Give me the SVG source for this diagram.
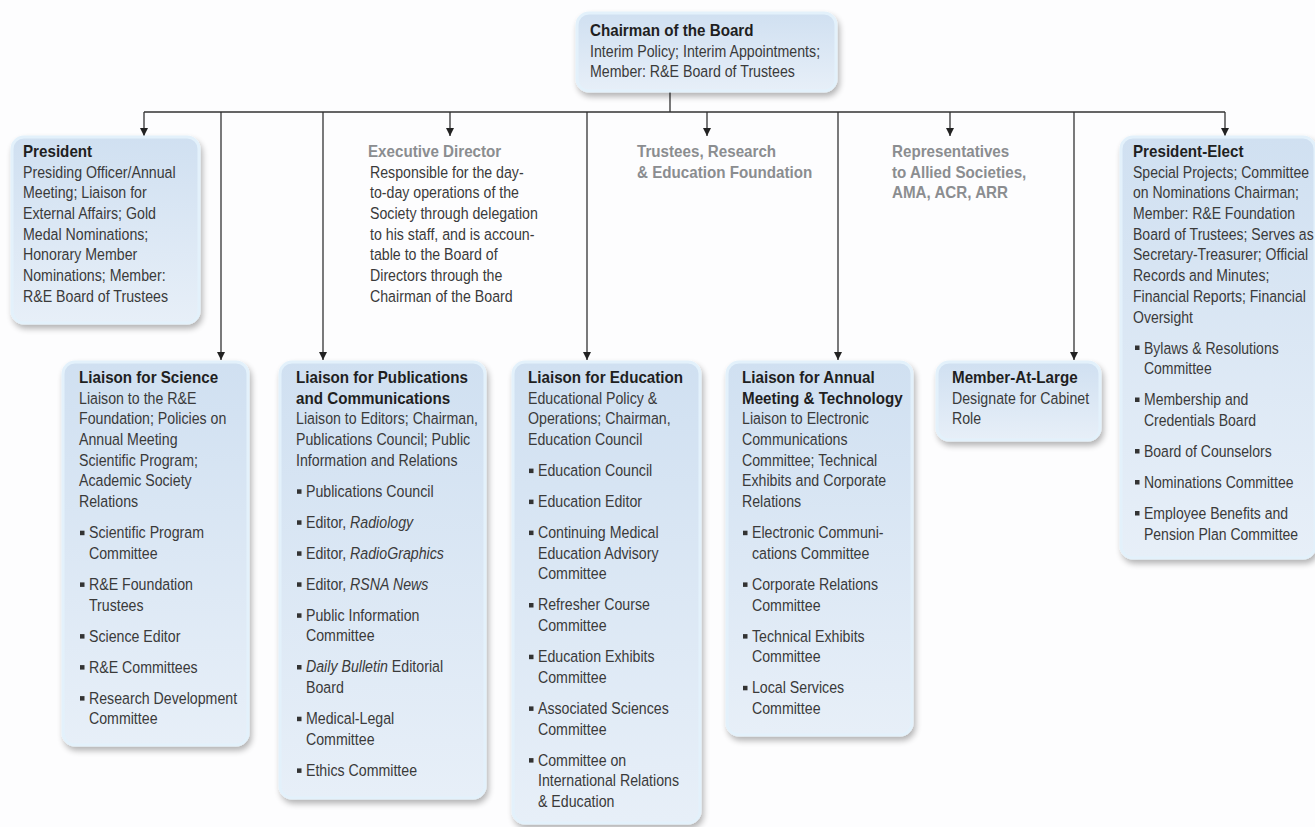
<svg xmlns="http://www.w3.org/2000/svg" width="1315" height="827" viewBox="0 0 1315 827">
<defs>
<linearGradient id="g" x1="0" y1="0" x2="0" y2="1">
<stop offset="0" stop-color="#d0e0f1"/>
<stop offset="1" stop-color="#e7eff8"/>
</linearGradient>
<filter id="sh" x="-10%" y="-10%" width="125%" height="125%">
<feGaussianBlur in="SourceAlpha" stdDeviation="3"/>
<feOffset dx="2" dy="4" result="o"/>
<feComponentTransfer><feFuncA type="linear" slope="0.3"/></feComponentTransfer>
<feMerge><feMergeNode/><feMergeNode in="SourceGraphic"/></feMerge>
</filter>
<marker id="ah" markerUnits="userSpaceOnUse" markerWidth="10" markerHeight="10" refX="8" refY="4" orient="auto">
<path d="M0,0 L8,4 L0,8 z" fill="#222"/>
</marker>
<style>
.box{fill:url(#g);stroke:#e3f1fb;stroke-width:3;filter:url(#sh)}
text{font-family:"Liberation Sans",Arial,sans-serif;font-size:16.5px}
.t{fill:#3a3a3a}
.h{fill:#1f1f1f;font-weight:bold}
.gh{fill:#8b8d90;font-weight:bold}
.bl{fill:#333}
.c{stroke:#333;stroke-width:1.3;fill:none}
.i{font-style:italic}
</style>
</defs>
<rect x="0" y="0" width="1315" height="827" fill="#fdfdfe"/>

<g id="connectors">
<path class="c" d="M670 91 V112 M144 112 H1225"/>
<line class="c" x1="144" y1="112" x2="144" y2="136" marker-end="url(#ah)"/>
<line class="c" x1="221" y1="112" x2="221" y2="360" marker-end="url(#ah)"/>
<line class="c" x1="323" y1="112" x2="323" y2="360" marker-end="url(#ah)"/>
<line class="c" x1="450" y1="112" x2="450" y2="136" marker-end="url(#ah)"/>
<line class="c" x1="587" y1="112" x2="587" y2="360" marker-end="url(#ah)"/>
<line class="c" x1="707" y1="112" x2="707" y2="136" marker-end="url(#ah)"/>
<line class="c" x1="838" y1="112" x2="838" y2="360" marker-end="url(#ah)"/>
<line class="c" x1="950" y1="112" x2="950" y2="136" marker-end="url(#ah)"/>
<line class="c" x1="1074" y1="112" x2="1074" y2="360" marker-end="url(#ah)"/>
<line class="c" x1="1225" y1="112" x2="1225" y2="136" marker-end="url(#ah)"/>
</g>

<g id="chairman">
<rect class="box" x="577" y="13" width="259" height="78" rx="12"/>
<g transform="translate(590 0) scale(0.92 1)"><text class="h" x="0" y="36">Chairman of the Board</text></g>
<g transform="translate(590 0) scale(0.86 1)" class="t">
<text class="t" x="0" y="56.7">Interim Policy; Interim Appointments;</text>
<text class="t" x="0" y="77.4">Member: R&amp;E Board of Trustees</text>
</g>
</g>

<g id="president">
<rect class="box" x="12" y="137" width="187" height="186" rx="12"/>
<g transform="translate(23 0) scale(0.92 1)"><text class="h" x="0" y="157">President</text></g>
<g transform="translate(23 0) scale(0.86 1)">
<text class="t" x="0" y="177.7">Presiding Officer/Annual</text>
<text class="t" x="0" y="198.4">Meeting; Liaison for</text>
<text class="t" x="0" y="219.1">External Affairs; Gold</text>
<text class="t" x="0" y="239.8">Medal Nominations;</text>
<text class="t" x="0" y="260.5">Honorary Member</text>
<text class="t" x="0" y="281.2">Nominations; Member:</text>
<text class="t" x="0" y="301.9">R&amp;E Board of Trustees</text>
</g>
</g>

<g id="executive-director">
<g transform="translate(368 0) scale(0.92 1)"><text class="gh" x="0" y="157">Executive Director</text></g>
<g transform="translate(370 0) scale(0.86 1)">
<text class="t" x="0" y="177.7">Responsible for the day-</text>
<text class="t" x="0" y="198.4">to-day operations of the</text>
<text class="t" x="0" y="219.1">Society through delegation</text>
<text class="t" x="0" y="239.8">to his staff, and is accoun-</text>
<text class="t" x="0" y="260.5">table to the Board of</text>
<text class="t" x="0" y="281.2">Directors through the</text>
<text class="t" x="0" y="301.9">Chairman of the Board</text>
</g>
</g>

<g id="trustees">
<g transform="translate(637 0) scale(0.92 1)">
<text class="gh" x="0" y="157">Trustees, Research</text>
<text class="gh" x="0" y="177.7">&amp; Education Foundation</text>
</g>
</g>

<g id="representatives">
<g transform="translate(892 0) scale(0.92 1)">
<text class="gh" x="0" y="157">Representatives</text>
<text class="gh" x="0" y="177.7">to Allied Societies,</text>
<text class="gh" x="0" y="198.4">AMA, ACR, ARR</text>
</g>
</g>

<g id="president-elect">
<rect class="box" x="1121" y="137" width="194" height="421" rx="12"/>
<g transform="translate(1133 0) scale(0.92 1)"><text class="h" x="0" y="157">President-Elect</text></g>
<g transform="translate(1133 0) scale(0.85 1)">
<text class="t" x="0" y="177.7">Special Projects; Committee</text>
<text class="t" x="0" y="198.4">on Nominations Chairman;</text>
<text class="t" x="0" y="219.1">Member: R&amp;E Foundation</text>
<text class="t" x="0" y="239.8">Board of Trustees; Serves as</text>
<text class="t" x="0" y="260.5">Secretary-Treasurer; Official</text>
<text class="t" x="0" y="281.2">Records and Minutes;</text>
<text class="t" x="0" y="301.9">Financial Reports; Financial</text>
<text class="t" x="0" y="322.6">Oversight</text>
<text class="t" x="12.9" y="353.6">Bylaws &amp; Resolutions</text>
<text class="t" x="12.9" y="374.3">Committee</text>
<text class="t" x="12.9" y="405.3">Membership and</text>
<text class="t" x="12.9" y="426">Credentials Board</text>
<text class="t" x="12.9" y="457">Board of Counselors</text>
<text class="t" x="12.9" y="488">Nominations Committee</text>
<text class="t" x="12.9" y="519">Employee Benefits and</text>
<text class="t" x="12.9" y="539.7">Pension Plan Committee</text>
</g>
<g class="bl">
<rect x="1135" y="345.5" width="4.5" height="4.5"/>
<rect x="1135" y="397.5" width="4.5" height="4.5"/>
<rect x="1135" y="449" width="4.5" height="4.5"/>
<rect x="1135" y="480" width="4.5" height="4.5"/>
<rect x="1135" y="511" width="4.5" height="4.5"/>
</g>
</g>

<g id="liaison-science">
<rect class="box" x="63" y="362" width="185" height="383" rx="12"/>
<g transform="translate(79 0) scale(0.92 1)"><text class="h" x="0" y="383">Liaison for Science</text></g>
<g transform="translate(79 0) scale(0.86 1)">
<text class="t" x="0" y="403.7">Liaison to the R&amp;E</text>
<text class="t" x="0" y="424.4">Foundation; Policies on</text>
<text class="t" x="0" y="445.1">Annual Meeting</text>
<text class="t" x="0" y="465.8">Scientific Program;</text>
<text class="t" x="0" y="486.5">Academic Society</text>
<text class="t" x="0" y="507.2">Relations</text>
<text class="t" x="11.6" y="538.2">Scientific Program</text>
<text class="t" x="11.6" y="558.9">Committee</text>
<text class="t" x="11.6" y="589.9">R&amp;E Foundation</text>
<text class="t" x="11.6" y="610.6">Trustees</text>
<text class="t" x="11.6" y="641.6">Science Editor</text>
<text class="t" x="11.6" y="672.6">R&amp;E Committees</text>
<text class="t" x="11.6" y="703.6">Research Development</text>
<text class="t" x="11.6" y="724.3">Committee</text>
</g>
<g class="bl">
<rect x="80" y="530.7" width="4.5" height="4.5"/>
<rect x="80" y="582.4" width="4.5" height="4.5"/>
<rect x="80" y="634.1" width="4.5" height="4.5"/>
<rect x="80" y="665.1" width="4.5" height="4.5"/>
<rect x="80" y="696.1" width="4.5" height="4.5"/>
</g>
</g>

<g id="liaison-publications">
<rect class="box" x="280" y="362" width="205" height="436" rx="12"/>
<g transform="translate(296 0) scale(0.92 1)">
<text class="h" x="0" y="383">Liaison for Publications</text>
<text class="h" x="0" y="403.7">and Communications</text>
</g>
<g transform="translate(296 0) scale(0.86 1)">
<text class="t" x="0" y="424.4">Liaison to Editors; Chairman,</text>
<text class="t" x="0" y="445.1">Publications Council; Public</text>
<text class="t" x="0" y="465.8">Information and Relations</text>
<text class="t" x="11.6" y="496.8">Publications Council</text>
<text class="t" x="11.6" y="527.8">Editor, <tspan class="i">Radiology</tspan></text>
<text class="t" x="11.6" y="558.8">Editor, <tspan class="i">RadioGraphics</tspan></text>
<text class="t" x="11.6" y="589.8">Editor, <tspan class="i">RSNA News</tspan></text>
<text class="t" x="11.6" y="620.8">Public Information</text>
<text class="t" x="11.6" y="641.5">Committee</text>
<text class="t" x="11.6" y="672.5"><tspan class="i">Daily Bulletin</tspan> Editorial</text>
<text class="t" x="11.6" y="693.2">Board</text>
<text class="t" x="11.6" y="724.2">Medical-Legal</text>
<text class="t" x="11.6" y="744.9">Committee</text>
<text class="t" x="11.6" y="775.9">Ethics Committee</text>
</g>
<g class="bl">
<rect x="297" y="489.3" width="4.5" height="4.5"/>
<rect x="297" y="520.3" width="4.5" height="4.5"/>
<rect x="297" y="551.3" width="4.5" height="4.5"/>
<rect x="297" y="582.3" width="4.5" height="4.5"/>
<rect x="297" y="613.3" width="4.5" height="4.5"/>
<rect x="297" y="665" width="4.5" height="4.5"/>
<rect x="297" y="716.7" width="4.5" height="4.5"/>
<rect x="297" y="768.4" width="4.5" height="4.5"/>
</g>
</g>

<g id="liaison-education">
<rect class="box" x="513" y="362" width="187" height="461" rx="12"/>
<g transform="translate(528 0) scale(0.92 1)"><text class="h" x="0" y="383">Liaison for Education</text></g>
<g transform="translate(528 0) scale(0.86 1)">
<text class="t" x="0" y="403.7">Educational Policy &amp;</text>
<text class="t" x="0" y="424.4">Operations; Chairman,</text>
<text class="t" x="0" y="445.1">Education Council</text>
<text class="t" x="11.6" y="476.1">Education Council</text>
<text class="t" x="11.6" y="507.1">Education Editor</text>
<text class="t" x="11.6" y="538.1">Continuing Medical</text>
<text class="t" x="11.6" y="558.8">Education Advisory</text>
<text class="t" x="11.6" y="579.5">Committee</text>
<text class="t" x="11.6" y="610.5">Refresher Course</text>
<text class="t" x="11.6" y="631.2">Committee</text>
<text class="t" x="11.6" y="662.2">Education Exhibits</text>
<text class="t" x="11.6" y="682.9">Committee</text>
<text class="t" x="11.6" y="713.9">Associated Sciences</text>
<text class="t" x="11.6" y="734.6">Committee</text>
<text class="t" x="11.6" y="765.6">Committee on</text>
<text class="t" x="11.6" y="786.3">International Relations</text>
<text class="t" x="11.6" y="807">&amp; Education</text>
</g>
<g class="bl">
<rect x="529" y="468.6" width="4.5" height="4.5"/>
<rect x="529" y="499.6" width="4.5" height="4.5"/>
<rect x="529" y="530.6" width="4.5" height="4.5"/>
<rect x="529" y="603" width="4.5" height="4.5"/>
<rect x="529" y="654.7" width="4.5" height="4.5"/>
<rect x="529" y="706.4" width="4.5" height="4.5"/>
<rect x="529" y="758.1" width="4.5" height="4.5"/>
</g>
</g>

<g id="liaison-annual-meeting">
<rect class="box" x="727" y="362" width="185" height="373" rx="12"/>
<g transform="translate(742 0) scale(0.92 1)">
<text class="h" x="0" y="383">Liaison for Annual</text>
<text class="h" x="0" y="403.7">Meeting &amp; Technology</text>
</g>
<g transform="translate(742 0) scale(0.86 1)">
<text class="t" x="0" y="424.4">Liaison to Electronic</text>
<text class="t" x="0" y="445.1">Communications</text>
<text class="t" x="0" y="465.8">Committee; Technical</text>
<text class="t" x="0" y="486.5">Exhibits and Corporate</text>
<text class="t" x="0" y="507.2">Relations</text>
<text class="t" x="11.6" y="538.2">Electronic Communi-</text>
<text class="t" x="11.6" y="558.9">cations Committee</text>
<text class="t" x="11.6" y="589.9">Corporate Relations</text>
<text class="t" x="11.6" y="610.6">Committee</text>
<text class="t" x="11.6" y="641.6">Technical Exhibits</text>
<text class="t" x="11.6" y="662.3">Committee</text>
<text class="t" x="11.6" y="693.3">Local Services</text>
<text class="t" x="11.6" y="714">Committee</text>
</g>
<g class="bl">
<rect x="743" y="530.7" width="4.5" height="4.5"/>
<rect x="743" y="582.4" width="4.5" height="4.5"/>
<rect x="743" y="634.1" width="4.5" height="4.5"/>
<rect x="743" y="685.8" width="4.5" height="4.5"/>
</g>
</g>

<g id="member-at-large">
<rect class="box" x="937" y="362" width="163" height="78" rx="12"/>
<g transform="translate(952 0) scale(0.92 1)"><text class="h" x="0" y="383">Member-At-Large</text></g>
<g transform="translate(952 0) scale(0.86 1)">
<text class="t" x="0" y="403.7">Designate for Cabinet</text>
<text class="t" x="0" y="424.4">Role</text>
</g>
</g>
</svg>
